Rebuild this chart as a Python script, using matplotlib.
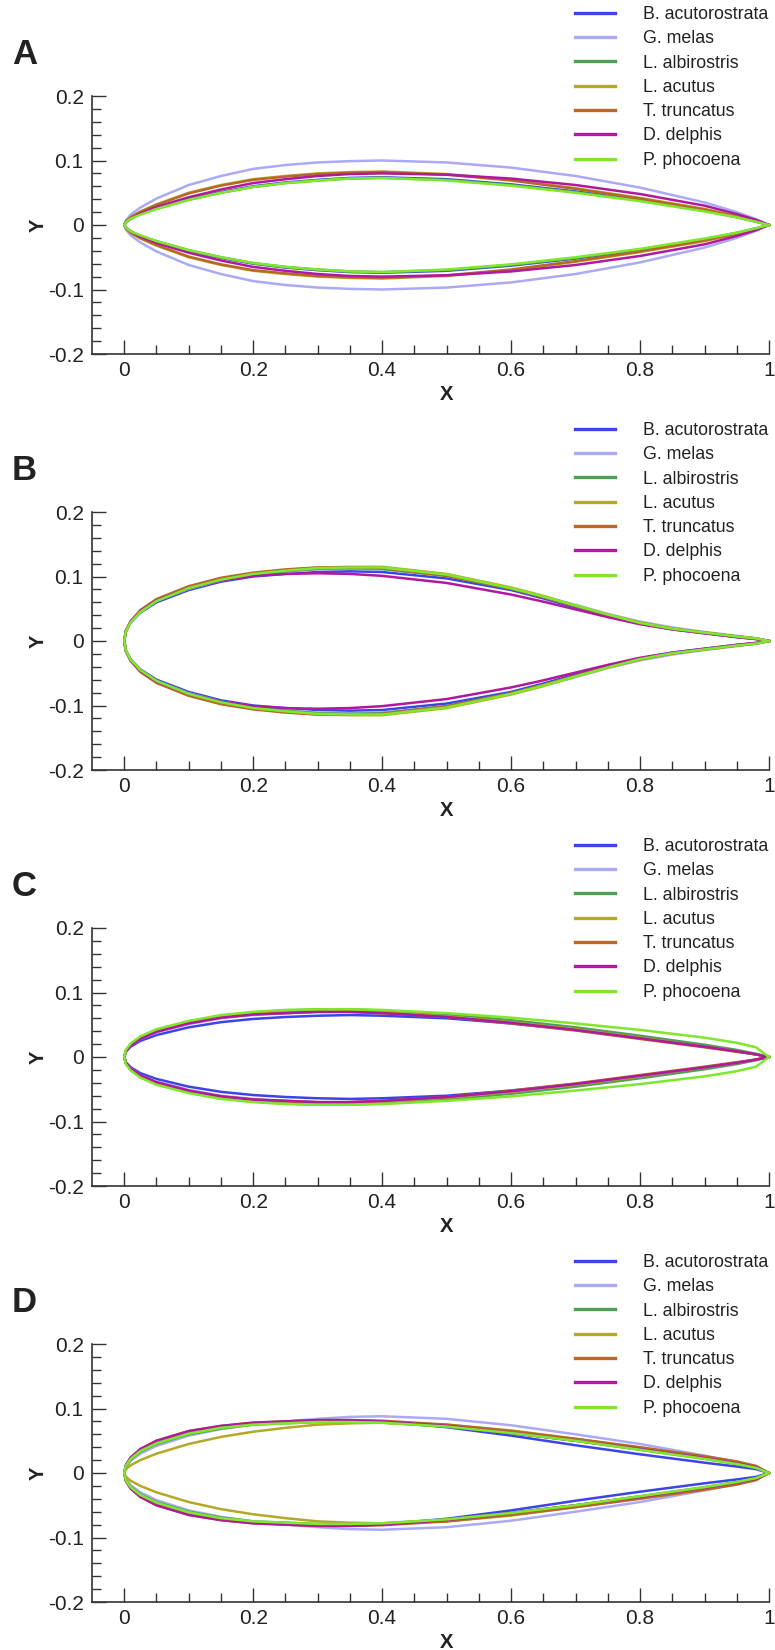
import matplotlib
matplotlib.use("Agg")
import matplotlib.pyplot as plt
from matplotlib.lines import Line2D

plt.rcParams['font.family'] = ['Liberation Sans', 'DejaVu Sans']
plt.rcParams['axes.unicode_minus'] = False

# ---------------- data ----------------
SPECIES = ["B. acutorostrata", "G. melas", "L. albirostris", "L. acutus",
           "T. truncatus", "D. delphis", "P. phocoena"]
COLORS = ["#3a44e8", "#aaaaf6", "#4f9e58", "#b5a826", "#b8672a", "#b0199f", "#7ee82c"]
PANEL_LETTERS = ["A", "B", "C", "D"]

# chordwise stations (x / chord)
X_STATIONS = [0, 0.0025, 0.01, 0.025, 0.05, 0.1, 0.15, 0.2, 0.25, 0.3, 0.35, 0.4,
              0.5, 0.6, 0.7, 0.8, 0.9, 0.95, 0.98, 1.0]
X_STATIONS_B = [0, 0.0025, 0.01, 0.025, 0.05, 0.1, 0.15, 0.2, 0.25, 0.3, 0.35, 0.4,
                0.5, 0.6, 0.65, 0.7, 0.75, 0.8, 0.85, 0.9, 0.95, 0.98, 1.0]

# half-thickness (y / chord), one row per species
PANEL_A = [
    [0, 0.004, 0.010, 0.017, 0.026, 0.040, 0.051, 0.060, 0.066, 0.070, 0.073, 0.074, 0.071, 0.063, 0.052, 0.039, 0.023, 0.013, 0.006, 0],
    [0, 0.007, 0.016, 0.027, 0.041, 0.062, 0.076, 0.087, 0.093, 0.097, 0.099, 0.100, 0.097, 0.089, 0.076, 0.058, 0.035, 0.020, 0.009, 0],
    [0, 0.004, 0.010, 0.017, 0.025, 0.039, 0.050, 0.059, 0.065, 0.069, 0.072, 0.073, 0.070, 0.062, 0.051, 0.038, 0.022, 0.012, 0.005, 0],
    [0, 0.005, 0.012, 0.021, 0.032, 0.050, 0.062, 0.071, 0.076, 0.080, 0.082, 0.083, 0.079, 0.070, 0.057, 0.042, 0.025, 0.014, 0.006, 0],
    [0, 0.005, 0.012, 0.020, 0.031, 0.049, 0.061, 0.070, 0.075, 0.079, 0.081, 0.082, 0.078, 0.069, 0.056, 0.041, 0.024, 0.013, 0.006, 0],
    [0, 0.004, 0.010, 0.018, 0.028, 0.043, 0.055, 0.065, 0.071, 0.076, 0.079, 0.080, 0.078, 0.072, 0.062, 0.048, 0.030, 0.017, 0.008, 0],
    [0, 0.004, 0.010, 0.016, 0.025, 0.039, 0.050, 0.059, 0.065, 0.069, 0.072, 0.073, 0.069, 0.061, 0.050, 0.037, 0.021, 0.012, 0.005, 0],
]
PANEL_B = [
    [0, 0.015, 0.029, 0.044, 0.060, 0.079, 0.092, 0.100, 0.104, 0.107, 0.108, 0.107, 0.097, 0.079, 0.066, 0.052, 0.039, 0.027, 0.018, 0.012, 0.006, 0.003, 0],
    [0, 0.015, 0.029, 0.045, 0.062, 0.081, 0.094, 0.102, 0.107, 0.111, 0.112, 0.111, 0.101, 0.082, 0.069, 0.056, 0.042, 0.030, 0.021, 0.014, 0.008, 0.004, 0],
    [0, 0.015, 0.029, 0.045, 0.062, 0.082, 0.095, 0.103, 0.108, 0.112, 0.113, 0.112, 0.101, 0.081, 0.068, 0.054, 0.040, 0.028, 0.019, 0.013, 0.007, 0.004, 0],
    [0, 0.015, 0.030, 0.046, 0.063, 0.083, 0.096, 0.105, 0.110, 0.114, 0.115, 0.115, 0.104, 0.083, 0.070, 0.055, 0.041, 0.029, 0.019, 0.013, 0.007, 0.004, 0],
    [0, 0.016, 0.031, 0.048, 0.065, 0.085, 0.098, 0.106, 0.111, 0.114, 0.114, 0.113, 0.101, 0.081, 0.068, 0.054, 0.040, 0.028, 0.019, 0.013, 0.007, 0.004, 0],
    [0, 0.015, 0.030, 0.046, 0.063, 0.082, 0.094, 0.101, 0.104, 0.105, 0.104, 0.101, 0.090, 0.072, 0.061, 0.049, 0.037, 0.026, 0.018, 0.012, 0.006, 0.003, 0],
    [0, 0.015, 0.029, 0.045, 0.062, 0.082, 0.095, 0.104, 0.109, 0.113, 0.114, 0.114, 0.103, 0.082, 0.069, 0.055, 0.041, 0.028, 0.019, 0.013, 0.007, 0.004, 0],
]
PANEL_C = [
    [0, 0.008, 0.016, 0.025, 0.034, 0.046, 0.054, 0.059, 0.062, 0.064, 0.065, 0.064, 0.060, 0.052, 0.042, 0.030, 0.017, 0.009, 0.004, 0],
    [0, 0.009, 0.018, 0.028, 0.038, 0.051, 0.060, 0.065, 0.068, 0.070, 0.070, 0.069, 0.063, 0.054, 0.043, 0.030, 0.016, 0.009, 0.004, 0],
    [0, 0.010, 0.020, 0.031, 0.042, 0.055, 0.064, 0.069, 0.072, 0.074, 0.074, 0.072, 0.066, 0.057, 0.046, 0.033, 0.019, 0.011, 0.005, 0],
    [0, 0.009, 0.019, 0.029, 0.040, 0.053, 0.062, 0.067, 0.069, 0.071, 0.071, 0.069, 0.063, 0.054, 0.043, 0.030, 0.016, 0.009, 0.004, 0],
    [0, 0.009, 0.019, 0.029, 0.040, 0.053, 0.061, 0.066, 0.068, 0.070, 0.070, 0.068, 0.062, 0.052, 0.041, 0.028, 0.015, 0.008, 0.004, 0],
    [0, 0.009, 0.018, 0.028, 0.039, 0.052, 0.061, 0.066, 0.068, 0.070, 0.070, 0.068, 0.062, 0.053, 0.042, 0.029, 0.016, 0.009, 0.004, 0],
    [0, 0.011, 0.021, 0.032, 0.043, 0.056, 0.065, 0.070, 0.073, 0.074, 0.074, 0.073, 0.068, 0.061, 0.052, 0.042, 0.030, 0.022, 0.015, 0],
]
PANEL_D = [
    [0, 0.011, 0.022, 0.034, 0.047, 0.062, 0.071, 0.076, 0.079, 0.081, 0.081, 0.080, 0.071, 0.058, 0.043, 0.029, 0.016, 0.010, 0.006, 0],
    [0, 0.009, 0.019, 0.030, 0.042, 0.058, 0.068, 0.075, 0.080, 0.084, 0.087, 0.088, 0.084, 0.074, 0.060, 0.045, 0.027, 0.017, 0.009, 0],
    [0, 0.010, 0.021, 0.033, 0.045, 0.060, 0.069, 0.075, 0.077, 0.079, 0.079, 0.078, 0.072, 0.062, 0.050, 0.036, 0.022, 0.014, 0.008, 0],
    [0, 0.006, 0.012, 0.020, 0.030, 0.045, 0.056, 0.064, 0.070, 0.075, 0.077, 0.078, 0.075, 0.066, 0.053, 0.039, 0.024, 0.016, 0.009, 0],
    [0, 0.012, 0.024, 0.037, 0.050, 0.065, 0.073, 0.078, 0.080, 0.082, 0.082, 0.081, 0.075, 0.065, 0.053, 0.040, 0.026, 0.018, 0.011, 0],
    [0, 0.012, 0.024, 0.037, 0.050, 0.065, 0.073, 0.078, 0.080, 0.082, 0.082, 0.080, 0.073, 0.062, 0.050, 0.037, 0.023, 0.015, 0.009, 0],
    [0, 0.011, 0.022, 0.034, 0.046, 0.061, 0.070, 0.075, 0.077, 0.079, 0.079, 0.078, 0.072, 0.062, 0.050, 0.036, 0.022, 0.014, 0.008, 0],
]
PANELS = [PANEL_A, PANEL_B, PANEL_C, PANEL_D]
PANEL_STATIONS = [X_STATIONS, X_STATIONS_B, X_STATIONS, X_STATIONS]

XTICKS = [0, 0.2, 0.4, 0.6, 0.8, 1.0]
XTICK_LABELS = ["0", "0.2", "0.4", "0.6", "0.8", "1"]
YTICKS = [-0.2, -0.1, 0, 0.1, 0.2]
YTICK_LABELS = ["-0.2", "-0.1", "0", "0.1", "0.2"]
XMINOR = [0.05, 0.1, 0.15, 0.25, 0.3, 0.35, 0.45, 0.5, 0.55, 0.65, 0.7, 0.75, 0.85, 0.9, 0.95]
YMINOR = [-0.18, -0.16, -0.14, -0.12, -0.08, -0.06, -0.04, -0.02,
          0.02, 0.04, 0.06, 0.08, 0.12, 0.14, 0.16, 0.18]

# ---------------- layout ----------------
W, H = 775, 1650
fig = plt.figure(figsize=(W / 100, H / 100), dpi=100)
fig.patch.set_facecolor("white")

TEXT = "#222222"
AX_LEFT_PX, AX_RIGHT_PX = 92, 769
AX_TOPS_PX = [96, 512, 928, 1344]
AX_H_PX = 258

for i, (rows, stations, letter) in enumerate(zip(PANELS, PANEL_STATIONS, PANEL_LETTERS)):
    top = AX_TOPS_PX[i]
    ax = fig.add_axes([AX_LEFT_PX / W, 1 - (top + AX_H_PX) / H,
                       (AX_RIGHT_PX - AX_LEFT_PX) / W, AX_H_PX / H])
    handles = []
    for name, col, half in zip(SPECIES, COLORS, rows):
        xs = list(reversed(stations)) + stations[1:]
        ys = list(reversed(half)) + [-v for v in half[1:]]
        ax.plot(xs, ys, color=col, lw=1.8, clip_on=False,
                solid_joinstyle="round")
        handles.append(Line2D([0], [0], color=col, lw=2.4))

    ax.set_xlim(-0.05, 1.0)
    ax.set_ylim(-0.2, 0.2)
    for s in ("top", "right"):
        ax.spines[s].set_visible(False)
    for s in ("left", "bottom"):
        ax.spines[s].set_linewidth(1.2)
        ax.spines[s].set_color("#333333")

    ax.set_xticks(XTICKS)
    ax.set_xticklabels(XTICK_LABELS)
    ax.set_yticks(YTICKS)
    ax.set_yticklabels(YTICK_LABELS)
    ax.set_xticks(XMINOR, minor=True)
    ax.set_yticks(YMINOR, minor=True)
    ax.tick_params(axis="both", which="major", direction="in", length=10,
                   width=1.0, color="#333333", labelsize=15, labelcolor=TEXT)
    ax.tick_params(axis="both", which="minor", direction="in", length=6.5,
                   width=1.0, color="#333333")
    ax.tick_params(axis="x", which="major", pad=5)
    ax.tick_params(axis="y", which="major", pad=6)

    ax.text((0.5 + 0.05) / 1.05, -40 / AX_H_PX, "X", transform=ax.transAxes,
            ha="center", va="center", fontsize=14.5, fontweight="bold", color=TEXT)
    ax.text((38 - AX_LEFT_PX) / (AX_RIGHT_PX - AX_LEFT_PX), 0.5, "Y",
            transform=ax.transAxes, ha="center", va="center", rotation=90,
            fontsize=14.5, fontweight="bold", color=TEXT)

    fig.text(12 / W, 1 - (top - 42) / H, letter, ha="left", va="center",
             fontsize=25, fontweight="bold", color=TEXT)

    leg = ax.legend(handles, SPECIES, loc="upper left",
                    bbox_to_anchor=(575 / W, 1 - (top - 81 - 9) / H),
                    bbox_transform=fig.transFigure, frameon=False,
                    fontsize=12.8, handlelength=2.25, handletextpad=1.55,
                    labelspacing=0.41, borderpad=0, borderaxespad=0)
    for t in leg.get_texts():
        t.set_color(TEXT)

fig.savefig("out.png", dpi=100, facecolor="white")
